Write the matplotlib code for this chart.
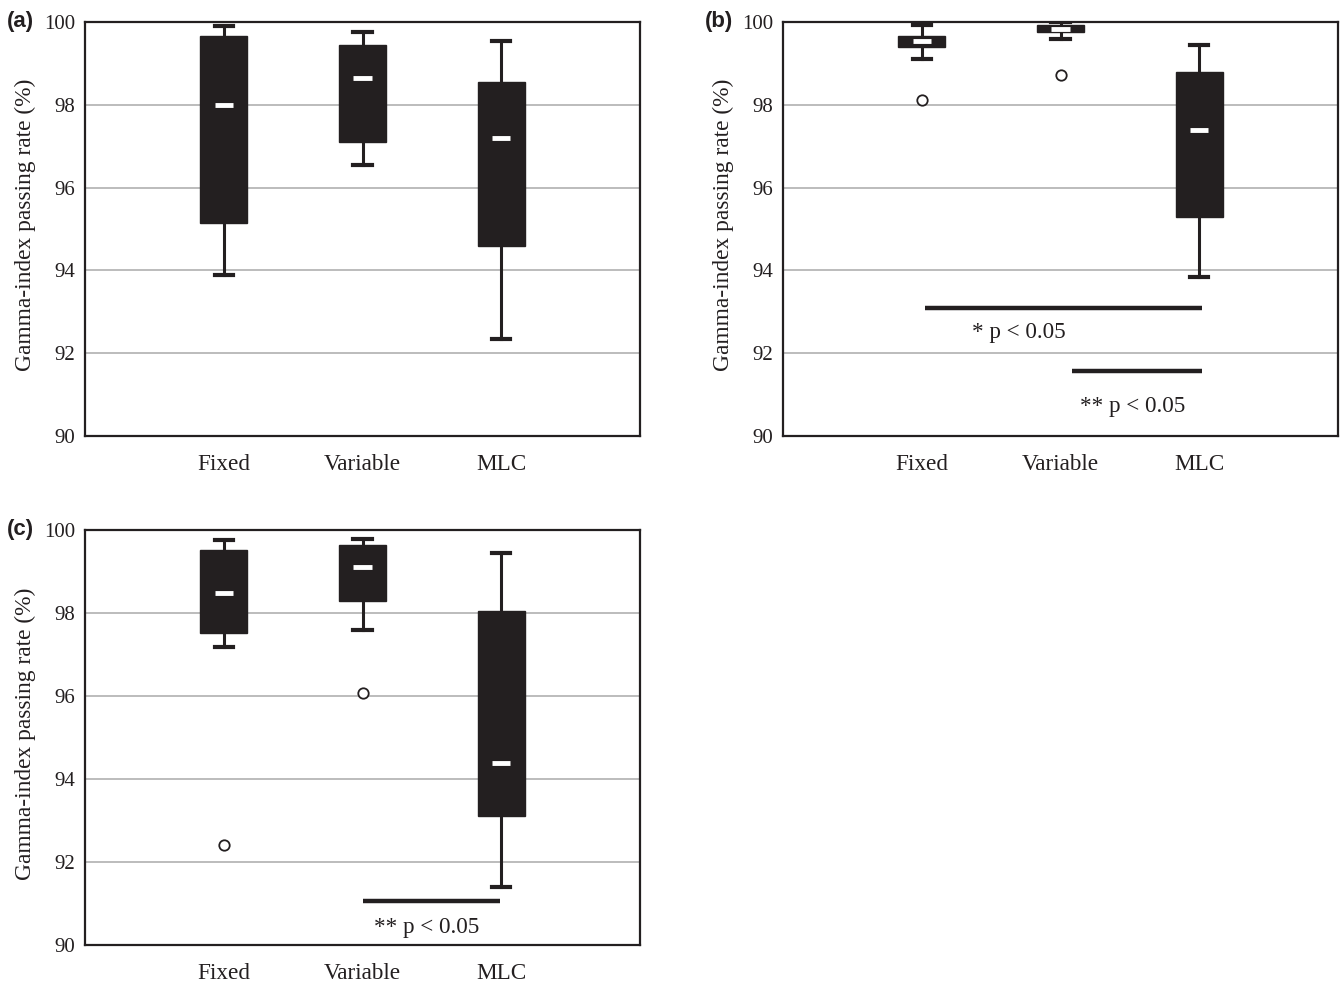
import matplotlib
matplotlib.use("Agg")
import matplotlib.pyplot as plt

categories = ["Fixed", "Variable", "MLC"]

# panel (a): whislo, q1, median, q3, whishi
a_whislo = [93.9, 96.55, 92.35]
a_q1 = [95.15, 97.1, 94.6]
a_med = [98.0, 98.65, 97.2]
a_q3 = [99.65, 99.45, 98.55]
a_whishi = [99.9, 99.75, 99.55]
a_fliers = [[], [], []]

# panel (b)
b_whislo = [99.1, 99.6, 93.85]
b_q1 = [99.4, 99.75, 95.3]
b_med = [99.55, 99.82, 97.4]
b_q3 = [99.65, 99.93, 98.8]
b_whishi = [99.92, 100.0, 99.45]
b_fliers = [[98.12], [98.72], []]

# panel (c)
c_whislo = [97.18, 97.6, 91.4]
c_q1 = [97.53, 98.3, 93.12]
c_med = [98.48, 99.1, 94.38]
c_q3 = [99.52, 99.63, 98.04]
c_whishi = [99.76, 99.79, 99.45]
c_fliers = [[92.42], [96.07], []]

# significance annotations: (x_start, x_end, y_line, text_x, text_y, label)
b_sig = [(1.02, 3.02, 93.1, 1.70, 92.49, "* p < 0.05"),
         (2.08, 3.02, 91.58, 2.52, 90.72, "** p < 0.05")]
c_sig = [(2.0, 2.99, 91.07, 2.46, 90.43, "** p < 0.05")]

panel_labels = ["(a)", "(b)", "(c)"]
y_ticks = [90, 92, 94, 96, 98, 100]

DARK = "#231f20"
SERIF = ["Liberation Serif", "DejaVu Serif"]

fig = plt.figure(figsize=(13.44, 9.82), dpi=100)

axes_rects = [
    (85 / 1344, 1 - 436 / 982, 555 / 1344, 414 / 982),
    (783 / 1344, 1 - 436 / 982, 555 / 1344, 414 / 982),
    (85 / 1344, 1 - 945 / 982, 555 / 1344, 415 / 982),
]

panels = [
    (a_whislo, a_q1, a_med, a_q3, a_whishi, a_fliers, []),
    (b_whislo, b_q1, b_med, b_q3, b_whishi, b_fliers, b_sig),
    (c_whislo, c_q1, c_med, c_q3, c_whishi, c_fliers, c_sig),
]

positions = [1, 2, 3]

for idx, (rect, data) in enumerate(zip(axes_rects, panels)):
    wl, q1, med, q3, wh, fl, sig = data
    ax = fig.add_axes(rect)
    stats = []
    for i in range(3):
        stats.append(dict(whislo=wl[i], q1=q1[i], med=med[i], q3=q3[i],
                          whishi=wh[i], fliers=fl[i], label=categories[i]))
    bp = ax.bxp(stats, positions=positions, widths=0.34, patch_artist=True,
                showfliers=True,
                boxprops=dict(facecolor=DARK, edgecolor=DARK, linewidth=1),
                whiskerprops=dict(color=DARK, linewidth=2.2),
                capprops=dict(color=DARK, linewidth=3),
                capwidths=0.13,
                medianprops=dict(color="white", linewidth=3.5,
                                 solid_capstyle="butt"),
                flierprops=dict(marker="o", markerfacecolor="white",
                                markeredgecolor=DARK, markersize=7.5,
                                markeredgewidth=1.3),
                zorder=3)
    # shorten median lines
    for ln in bp["medians"]:
        xs = ln.get_xdata()
        c = (xs[0] + xs[1]) / 2
        ln.set_xdata([c - 0.065, c + 0.065])
    ax.set_xlim(0, 4)
    ax.set_ylim(90, 100)
    ax.set_yticks(y_ticks)
    ax.set_yticklabels([str(t) for t in y_ticks], fontfamily=SERIF, fontsize=15,
                       color=DARK)
    ax.set_xticks(positions)
    ax.set_xticklabels(categories, fontfamily=SERIF, fontsize=16.7, color=DARK)
    ax.tick_params(axis="both", length=0)
    ax.tick_params(axis="y", pad=7)
    ax.tick_params(axis="x", pad=13)
    ax.yaxis.grid(True, color="#b0b0b0", linewidth=1.2, zorder=0)
    ax.set_axisbelow(True)
    for s in ax.spines.values():
        s.set_color(DARK)
        s.set_linewidth(1.6)
    ax.set_ylabel("Gamma-index passing rate (%)", fontfamily=SERIF,
                  fontsize=16.8, color=DARK)
    ax.yaxis.set_label_coords(-0.088, 0.51)
    for (x0, x1, y, tx, ty, lab) in sig:
        ax.plot([x0, x1], [y, y], color=DARK, linewidth=3.2,
                solid_capstyle="butt", zorder=4)
        ax.text(tx, ty, lab, ha="center", va="center", fontfamily=SERIF,
                fontsize=16.7, color=DARK)
    ax.text(-0.141, 1.0, panel_labels[idx], transform=ax.transAxes,
            fontfamily=["Liberation Sans", "DejaVu Sans"], fontweight="bold",
            fontsize=16, ha="left", va="center", color=DARK)

fig.savefig("out.png", dpi=100)
